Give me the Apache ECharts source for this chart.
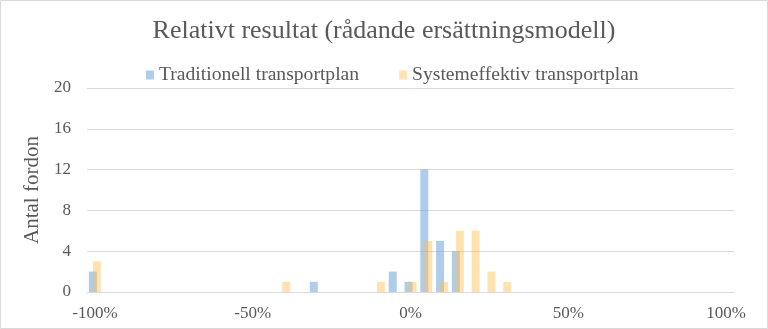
<!DOCTYPE html>
<html>
<head>
<meta charset="utf-8">
<script src="https://cdn.jsdelivr.net/npm/echarts@6/dist/echarts.min.js"></script>
<style>
  html, body { margin: 0; padding: 0; background: #fff; }
  #chart { width: 768px; height: 329px; }
</style>
</head>
<body>
<div id="chart"></div>
<script>
// Histogram bins: relative result from -100% to +100% in 5% steps
const categories = [];
for (let v = -100; v <= 100; v += 5) categories.push(v + '%');

// Number of vehicles per bin
const traditionell = [
  2, 0, 0, 0, 0, 0, 0, 0, 0, 0,   // -100 .. -55
  0, 0, 0, 0, 1, 0, 0, 0, 0, 2,   // -50 .. -5
  1, 12, 5, 4, 0, 0, 0, 0, 0, 0,  // 0 .. 45
  0, 0, 0, 0, 0, 0, 0, 0, 0, 0,   // 50 .. 95
  0                               // 100
];
const systemeffektiv = [
  3, 0, 0, 0, 0, 0, 0, 0, 0, 0,   // -100 .. -55
  0, 0, 1, 0, 0, 0, 0, 0, 1, 0,   // -50 .. -5
  1, 5, 1, 6, 6, 2, 1, 0, 0, 0,   // 0 .. 45
  0, 0, 0, 0, 0, 0, 0, 0, 0, 0,   // 50 .. 95
  0                               // 100
];

const serif = "'Liberation Serif', 'DejaVu Serif', serif";
const textGray = '#595959';

const chart = echarts.init(document.getElementById('chart'));
chart.setOption({
  animation: false,
  textStyle: { fontFamily: serif },
  title: {
    text: 'Relativt resultat (rådande ersättningsmodell)',
    left: 'center',
    top: 13,
    textStyle: { fontFamily: serif, fontSize: 26, fontWeight: 'normal', color: textGray }
  },
  legend: {
    top: 60,
    left: 141,
    icon: 'rect',
    itemWidth: 8,
    itemHeight: 9,
    itemGap: 40,
    textStyle: { fontFamily: serif, fontSize: 19.6, color: textGray }
  },
  grid: { left: 87, right: 34, top: 88, bottom: 37 },
  xAxis: {
    type: 'category',
    data: categories,
    axisLine: { lineStyle: { color: '#d9d9d9' } },
    axisTick: { show: false },
    axisLabel: {
      interval: 9,
      margin: 13,
      fontFamily: serif,
      fontSize: 17,
      color: textGray
    }
  },
  yAxis: {
    type: 'value',
    min: 0,
    max: 20,
    interval: 4,
    name: 'Antal fordon',
    nameLocation: 'middle',
    nameGap: 42,
    nameTextStyle: { fontFamily: serif, fontSize: 21, color: textGray },
    axisLine: { show: false },
    axisTick: { show: false },
    axisLabel: { margin: 16, fontFamily: serif, fontSize: 17, color: textGray },
    splitLine: { lineStyle: { color: '#d9d9d9' } }
  },
  series: [
    {
      name: 'Traditionell transportplan',
      type: 'bar',
      data: traditionell,
      barWidth: 8,
      barGap: '-50%',
      itemStyle: { color: 'rgba(91,155,213,0.5)' }
    },
    {
      name: 'Systemeffektiv transportplan',
      type: 'bar',
      data: systemeffektiv,
      barWidth: 8,
      barGap: '-50%',
      itemStyle: { color: 'rgba(255,190,80,0.45)' }
    }
  ],
  graphic: [{
    type: 'rect',
    silent: true,
    shape: { x: 0.5, y: 0.5, width: 767, height: 328 },
    style: { fill: 'none', stroke: '#d9d9d9', lineWidth: 1 }
  }]
});
</script>
</body>
</html>
